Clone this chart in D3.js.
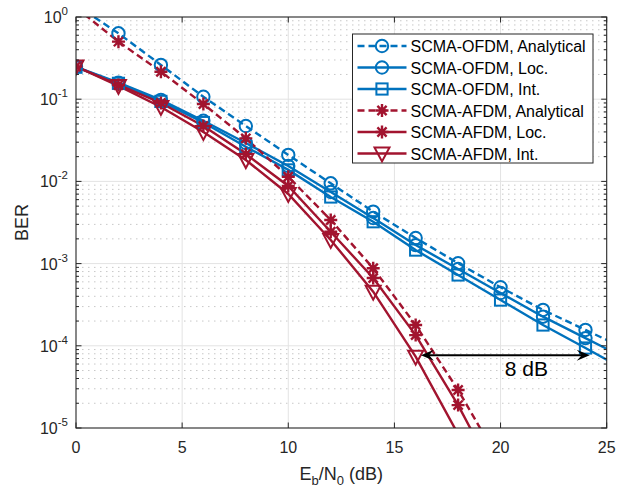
<!DOCTYPE html>
<html><head><meta charset="utf-8">
<script src="https://cdn.jsdelivr.net/npm/d3@7"></script>
<style>
body{margin:0;background:#fff;}
svg{display:block;font-family:"Liberation Sans",Arial,Helvetica,sans-serif;}
</style></head>
<body>
<div id="chart"></div>
<script>
// ---------- data ----------
const snrDb = [0,2,4,6,8,10,12,14,16,18,20,22,24,26];
const ofdmAnalytical = [1.4,0.633,0.261,0.107,0.0472,0.0210,0.00948,0.00428,0.00205,0.00101,5.15e-4,2.73e-4,1.56e-4,8.9e-5];
const ofdmLoc        = [0.248,0.159,0.098,0.0547,0.0293,0.0154,0.00743,0.00359,0.00168,8.6e-4,4.39e-4,2.26e-4,1.24e-4,6.8e-5];
const ofdmInt        = [0.245,0.156,0.094,0.052,0.0264,0.0138,0.00646,0.00323,0.00146,7.27e-4,3.6e-4,1.79e-4,9.4e-5,4.9e-5];
const afdmSnr = [0,2,4,6,8,10,12,14,16,18,20];
const afdmAnalytical = [1.3,0.501,0.216,0.0874,0.0334,0.0114,0.00339,8.77e-4,1.79e-4,2.9e-5,3.7e-6];
const afdmLoc        = [0.25,0.149,0.090,0.0472,0.0215,0.0088,0.00244,6.68e-4,1.35e-4,1.9e-5,2.0e-6];
const afdmInt        = [0.25,0.145,0.0804,0.0399,0.0182,0.00703,0.00194,4.55e-4,7.37e-5,8.4e-6,8e-7];
const seriesNames = ["SCMA-OFDM, Analytical","SCMA-OFDM, Loc.","SCMA-OFDM, Int.","SCMA-AFDM, Analytical","SCMA-AFDM, Loc.","SCMA-AFDM, Int."];
const xTicks = [0,5,10,15,20,25];
const yTickExps = [0,-1,-2,-3,-4,-5];
const xLabel = ["E","b","/N","0"," (dB)"];
const yLabel = "BER";
const gapArrowX = [16.25,24.2];
const gapArrowY = 7.7e-5;
const gapText = "8 dB";

// ---------- layout ----------
const W=624,H=488;
const L=76,R=606.7,T=17,B=428;
const blue="#0072BD", red="#A2142F", axisCol="#262626";

const svg=d3.select("#chart").append("svg").attr("width",W).attr("height",H);
const x=d3.scaleLinear().domain([0,25]).range([L,R]);
const y=d3.scaleLog().domain([1e-5,1]).range([B,T]);

svg.append("rect").attr("x",L).attr("y",T).attr("width",R-L).attr("height",B-T).attr("fill","#fff");

// minor grid (y)
const minorVals=[];
for(let e=-5;e<0;e++){for(let m=2;m<=9;m++){minorVals.push(m*Math.pow(10,e));}}
svg.append("g").selectAll("line").data(minorVals).join("line")
  .attr("x1",L).attr("x2",R).attr("y1",d=>y(d)).attr("y2",d=>y(d))
  .attr("stroke","#c8c8c8").attr("stroke-width",1).attr("stroke-dasharray","1.5,4.5");
// major grid
const gMaj=svg.append("g");
gMaj.selectAll(".gx").data(xTicks.slice(1,-1)).join("line")
  .attr("x1",d=>x(d)).attr("x2",d=>x(d)).attr("y1",T).attr("y2",B)
  .attr("stroke","#e3e3e3").attr("stroke-width",1);
gMaj.selectAll(".gy").data(yTickExps.slice(1,-1)).join("line")
  .attr("y1",d=>y(Math.pow(10,d))).attr("y2",d=>y(Math.pow(10,d))).attr("x1",L).attr("x2",R)
  .attr("stroke","#e3e3e3").attr("stroke-width",1);

// clip
svg.append("clipPath").attr("id","clip").append("rect").attr("x",L).attr("y",T).attr("width",R-L).attr("height",B-T);
const plot=svg.append("g").attr("clip-path","url(#clip)");

const series=[
  {xs:snrDb,ys:ofdmAnalytical,color:blue,dash:"7,4",marker:"circle"},
  {xs:snrDb,ys:ofdmLoc,color:blue,dash:null,marker:"circle"},
  {xs:snrDb,ys:ofdmInt,color:blue,dash:null,marker:"square"},
  {xs:afdmSnr,ys:afdmAnalytical,color:red,dash:"7,4",marker:"star"},
  {xs:afdmSnr,ys:afdmLoc,color:red,dash:null,marker:"star"},
  {xs:afdmSnr,ys:afdmInt,color:red,dash:null,marker:"triangle"}
];

function drawMarker(g,type,cx,cy,color){
  if(type==="circle"){
    g.append("circle").attr("cx",cx).attr("cy",cy).attr("r",6.2).attr("fill","none").attr("stroke",color).attr("stroke-width",2);
  } else if(type==="square"){
    g.append("rect").attr("x",cx-5.6).attr("y",cy-5.6).attr("width",11.2).attr("height",11.2).attr("fill","none").attr("stroke",color).attr("stroke-width",2);
  } else if(type==="triangle"){
    g.append("path").attr("d",`M${cx-7.5},${cy-6}L${cx+7.5},${cy-6}L${cx},${cy+8}Z`).attr("fill","none").attr("stroke",color).attr("stroke-width",2);
  } else if(type==="star"){
    const r=6.5,d=r*0.707;
    g.append("path").attr("d",`M${cx-r},${cy}L${cx+r},${cy}M${cx},${cy-r}L${cx},${cy+r}M${cx-d},${cy-d}L${cx+d},${cy+d}M${cx-d},${cy+d}L${cx+d},${cy-d}`)
      .attr("fill","none").attr("stroke",color).attr("stroke-width",2.4);
  }
}

series.forEach(s=>{
  const pts=s.xs.map((v,i)=>[v,s.ys[i]]);
  const line=d3.line().x(d=>x(d[0])).y(d=>y(d[1]));
  const p=plot.append("path").attr("d",line(pts)).attr("fill","none").attr("stroke",s.color).attr("stroke-width",2.4);
  if(s.dash)p.attr("stroke-dasharray",s.dash);
});
series.forEach(s=>{
  s.xs.forEach((v,i)=>{
    const val=s.ys[i];
    if(v>=0&&v<=25&&val>=1e-5&&val<=1){drawMarker(plot,s.marker,x(v),y(val),s.color);}
  });
});

// axes frame
svg.append("rect").attr("x",L).attr("y",T).attr("width",R-L).attr("height",B-T).attr("fill","none").attr("stroke",axisCol).attr("stroke-width",1.1);
const tk=svg.append("g").attr("stroke",axisCol).attr("stroke-width",1);
xTicks.forEach(v=>{
  tk.append("line").attr("x1",x(v)).attr("x2",x(v)).attr("y1",B).attr("y2",B-5.5);
  tk.append("line").attr("x1",x(v)).attr("x2",x(v)).attr("y1",T).attr("y2",T+5.5);
});
yTickExps.forEach(e=>{
  const yy=y(Math.pow(10,e));
  tk.append("line").attr("x1",L).attr("x2",L+5.5).attr("y1",yy).attr("y2",yy);
  tk.append("line").attr("x1",R).attr("x2",R-5.5).attr("y1",yy).attr("y2",yy);
});
minorVals.forEach(v=>{
  const yy=y(v);
  tk.append("line").attr("x1",L).attr("x2",L+3).attr("y1",yy).attr("y2",yy);
  tk.append("line").attr("x1",R).attr("x2",R-3).attr("y1",yy).attr("y2",yy);
});

// tick labels
svg.append("g").selectAll("text").data(xTicks).join("text")
  .attr("x",d=>x(d)).attr("y",B+25).attr("text-anchor","middle").attr("font-size",16).attr("fill","#262626").text(d=>d);
yTickExps.forEach(e=>{
  const t=svg.append("text").attr("x",68).attr("y",y(Math.pow(10,e))+6).attr("text-anchor","end").attr("font-size",16).attr("fill","#262626");
  t.append("tspan").text("10");
  t.append("tspan").attr("dy",-8).attr("font-size",11.5).text(String(e));
});

// axis labels
const xl=svg.append("text").attr("x",(L+R)/2).attr("y",480).attr("text-anchor","middle").attr("font-size",18).attr("fill","#262626");
xl.append("tspan").text(xLabel[0]);
xl.append("tspan").attr("dy",5).attr("font-size",13).text(xLabel[1]);
xl.append("tspan").attr("dy",-5).text(xLabel[2]);
xl.append("tspan").attr("dy",5).attr("font-size",13).text(xLabel[3]);
xl.append("tspan").attr("dy",-5).text(xLabel[4]);
svg.append("text").attr("transform",`translate(28,${(T+B)/2}) rotate(-90)`).attr("text-anchor","middle")
  .attr("font-size",18).attr("fill","#262626").text(yLabel);

// arrow annotation
const ax1=x(gapArrowX[0]),ax2=x(gapArrowX[1]),ay=y(gapArrowY);
const ag=svg.append("g");
ag.append("line").attr("x1",ax1+6).attr("x2",ax2-6).attr("y1",ay).attr("y2",ay).attr("stroke","#000").attr("stroke-width",2);
function head(tipX,dir){
  const l=13,w=5.5,notch=5;
  return `M${tipX},${ay}L${tipX-dir*l},${ay-w}L${tipX-dir*(l-notch)},${ay}L${tipX-dir*l},${ay+w}Z`;
}
ag.append("path").attr("d",head(ax1,-1)).attr("fill","#000");
ag.append("path").attr("d",head(ax2,1)).attr("fill","#000");
svg.append("text").attr("x",(ax1+ax2)/2+21).attr("y",ay+21).attr("text-anchor","middle").attr("font-size",21).attr("fill","#000").text(gapText);

// legend
const lg=svg.append("g");
const lx=352.5,ly=34,lw=240.5,lh=129;
lg.append("rect").attr("x",lx).attr("y",ly).attr("width",lw).attr("height",lh).attr("fill","#fff").attr("stroke",axisCol).attr("stroke-width",1);
series.forEach((s,i)=>{
  const cy=ly+12+i*21.5;
  const ln=lg.append("line").attr("x1",lx+5).attr("x2",lx+54).attr("y1",cy).attr("y2",cy).attr("stroke",s.color).attr("stroke-width",2.4);
  if(s.dash)ln.attr("stroke-dasharray",s.dash);
  drawMarker(lg,s.marker,lx+29.5,cy,s.color);
  lg.append("text").attr("x",lx+58).attr("y",cy+6).attr("font-size",16).attr("fill","#000").text(seriesNames[i]);
});
</script>
</body></html>
